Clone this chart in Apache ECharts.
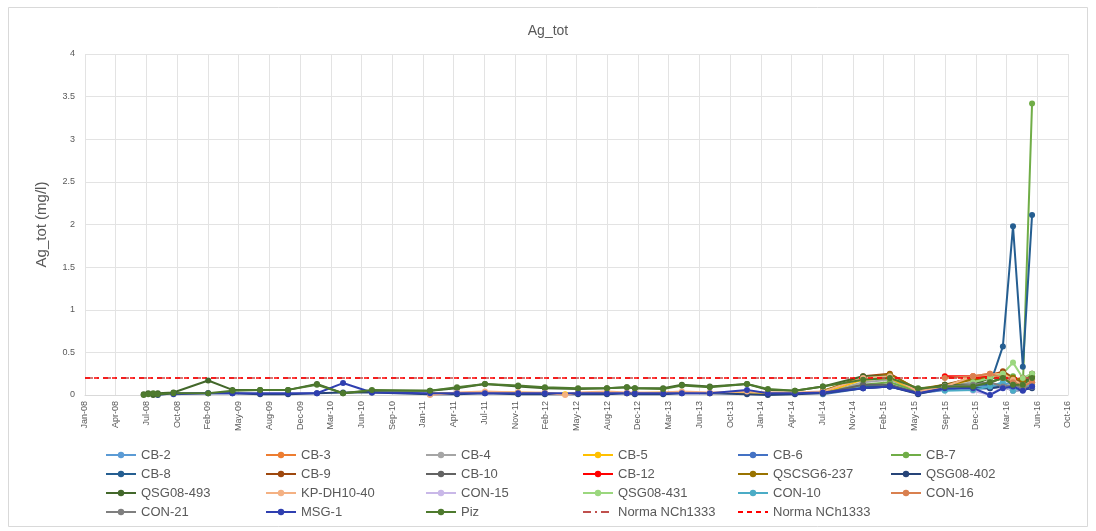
<!DOCTYPE html>
<html>
<head>
<meta charset="utf-8">
<script src="https://cdn.jsdelivr.net/npm/echarts@6/dist/echarts.min.js"></script>
<style>
html,body{margin:0;padding:0;background:#fff;}
#chart{width:1096px;height:531px;}
</style>
</head>
<body>
<div id="chart"></div>
<script>
// ---- DATA ----
const chartTitle = 'Ag_tot';
const yAxisTitle = 'Ag_tot (mg/l)';
const axisStart = '2008-01-01';
const xMaxDays = 3200;
const xStepDays = 100;
const yTicks = [0, 0.5, 1, 1.5, 2, 2.5, 3, 3.5, 4];

const sampleDates = [
  '2008-07-10','2008-07-25','2008-08-10','2008-08-25','2008-10-15','2009-02-05','2009-04-25','2009-07-24',
  '2009-10-23','2010-01-25','2010-04-20','2010-07-23','2011-01-28','2011-04-26','2011-07-26','2011-11-11',
  '2012-02-06','2012-04-12','2012-05-24','2012-08-26','2012-10-30','2012-11-25','2013-02-25','2013-04-27',
  '2013-07-27','2013-11-25','2014-02-01','2014-04-30','2014-07-30','2014-12-08','2015-03-05','2015-06-05',
  '2015-08-31','2015-12-01','2016-01-25','2016-03-07','2016-04-09','2016-05-11','2016-06-10'
];
const N = null;
// indices 0..27 (2008-2014 early) then 28..38 (late)
const cb2  = [N,N,N,N,N,N,N,N,N,N,N,N,N,N,N,N,N,N,N,N,N,N,N,N,N,N,N,N, 0.02,0.10,0.12,0.02,0.08,0.10,0.10,0.12,0.15,0.10,0.12];
const cb3  = [N,N,N,N,N,N,N,N,N,N,N,N,N,N,N,N,N,N,N,N,N,N,N,N,N,N,N,N, 0.03,0.20,0.22,0.05,0.10,0.22,0.25,0.26,0.20,0.15,0.18];
const cb4  = [N,N,N,N,N,N,N,N,N,N,N,N,N,N,N,N,N,N,N,N,N,N,N,N,N,N,N,N, 0.02,0.15,0.18,0.04,0.10,0.15,0.20,0.20,0.15,0.10,0.15];
const cb5  = [N,N,N,N,N,N,N,N,N,N,N,N,0.02,0.02,0.03,0.03,0.02,0.01,0.02,0.03,0.02,0.02,0.03,0.03,0.02,0.03,0.02,0.02, 0.03,0.18,0.20,0.03,0.08,0.20,0.22,0.25,0.18,0.12,0.20];
const cb6  = [N,N,N,N,N,N,N,N,N,N,N,N,N,N,N,N,N,N,N,N,N,N,N,N,N,N,N,N, 0.01,0.08,0.10,0.02,0.06,0.08,0.08,0.10,0.10,0.20,0.15];
const cb7  = [N,N,N,N,N,N,N,N,N,N,N,N,N,N,N,N,N,N,N,N,N,N,N,N,N,N,N,N, 0.02,0.12,0.15,0.04,0.10,0.12,0.15,0.20,0.22,0.10,3.42];
const cb8  = [N,N,N,N,N,N,N,N,N,N,N,N,N,N,N,N,N,N,N,N,N,N,N,N,N,N,N,N, N,0.10,0.10,0.03,0.10,0.12,0.12,0.57,1.98,0.33,2.11];
const cb9  = [N,N,N,N,N,N,N,N,N,N,N,N,N,N,N,N,N,N,N,N,N,N,N,N,N,N,N,N, 0.04,0.22,0.25,0.06,0.12,0.20,0.22,0.28,0.20,0.15,0.25];
const cb10 = [N,N,N,N,N,N,N,N,N,N,N,N,N,N,N,N,N,N,N,N,N,N,N,N,N,N,N,N, 0.02,0.12,0.12,0.02,0.10,0.12,0.15,0.20,0.12,0.10,0.20];
const cb12 = [N,N,N,N,N,N,N,N,N,N,N,N,N,N,N,N,N,N,N,N,N,N,N,N,N,N,N,N, N,N,N,N,0.22,0.22,0.22,0.22,0.18,0.20,0.15];
const qscsg6_237 = [N,N,N,N,N,N,N,N,N,N,N,N,N,N,N,N,N,N,N,N,N,N,N,N,N,N,N,N, 0.05,0.20,0.24,0.07,0.12,0.18,0.20,0.25,0.20,0.18,0.22];
const qsg08_402 = [N,N,0.01,0.00,0.02,0.02,0.02,0.01,0.01,0.02,0.03,0.03,0.01,0.01,0.02,0.01,0.01,N,0.01,0.01,0.02,0.01,0.01,0.02,0.02,0.01,0.00,0.01, 0.02,0.08,0.10,0.01,0.08,0.08,0.08,0.10,0.05,0.06,0.08];
const qsg08_493 = [0.01,0.02,0.00,0.02,0.03,0.17,0.06,0.06,0.06,0.13,0.02,0.05,0.05,0.08,0.13,0.10,0.08,N,0.07,0.08,0.09,0.08,0.08,0.12,0.10,0.13,0.06,0.05, 0.10,0.22,0.22,0.05,0.12,0.12,0.20,0.22,0.18,0.12,0.25];
const kpdh10_40 = [N,N,N,N,N,N,N,N,N,N,N,N,0.00,0.03,0.04,0.03,0.03,0.00,0.03,0.04,0.03,0.03,0.03,0.04,0.03,0.04,0.03,0.03, 0.04,0.20,0.22,0.04,0.10,0.22,0.24,0.25,0.18,0.12,0.18];
const con15 = [N,N,N,N,N,N,N,N,N,N,N,N,N,N,N,N,N,N,N,N,N,N,N,N,N,N,N,N, N,N,N,N,0.10,0.05,0.00,0.10,0.05,0.08,0.10];
const qsg08_431 = [N,N,N,N,N,N,N,N,N,N,N,N,N,N,N,N,N,N,N,N,N,N,N,N,N,N,N,N, N,N,N,N,N,0.15,0.20,0.25,0.38,0.20,0.25];
const con10 = [N,N,N,N,N,N,N,N,N,N,N,N,N,N,N,N,N,N,N,N,N,N,N,N,N,N,N,N, N,N,N,N,0.05,0.06,0.10,0.15,0.05,0.10,0.12];
const con16 = [N,N,N,N,N,N,N,N,N,N,N,N,N,N,N,N,N,N,N,N,N,N,N,N,N,N,N,N, N,N,N,N,0.20,0.22,0.25,0.20,0.15,0.10,0.15];
const con21 = [N,N,N,N,N,N,N,N,N,N,N,N,N,N,N,N,N,N,N,N,N,N,N,N,N,N,N,N, N,N,N,N,0.10,0.12,0.15,0.10,0.12,0.08,0.10];
const msg1 = [N,N,N,N,0.01,0.02,0.02,0.02,0.02,0.02,0.14,0.03,0.02,0.02,0.02,0.02,0.02,N,0.02,0.02,0.02,0.02,0.02,0.02,0.02,0.06,0.02,0.02, 0.03,0.08,0.10,0.02,0.08,0.08,0.00,0.08,0.10,0.05,0.10];
const piz = [0.00,0.01,0.02,0.01,0.02,0.02,0.05,0.06,0.06,0.12,0.02,0.06,0.05,0.09,0.13,0.11,0.09,N,0.08,0.08,0.09,0.08,0.07,0.11,0.09,0.13,0.07,0.05, 0.10,0.18,0.20,0.08,0.10,0.10,0.15,0.20,0.12,0.12,0.20];
const normaDates = ['2008-01-01','2016-06-10'];
const normaVals = [0.2, 0.2];

const seriesNames = ['CB-2','CB-3','CB-4','CB-5','CB-6','CB-7','CB-8','CB-9','CB-10','CB-12','QSCSG6-237','QSG08-402',
  'QSG08-493','KP-DH10-40','CON-15','QSG08-431','CON-10','CON-16','CON-21','MSG-1','Piz'];
const seriesValues = [cb2,cb3,cb4,cb5,cb6,cb7,cb8,cb9,cb10,cb12,qscsg6_237,qsg08_402,qsg08_493,kpdh10_40,con15,qsg08_431,con10,con16,con21,msg1,piz];

// ---- STYLE ----
const seriesColors = ['#5B9BD5','#ED7D31','#A5A5A5','#FFC000','#4472C4','#70AD47','#255E91','#9E480E','#636363','#FF0000','#997300','#264478',
  '#43682B','#F4B183','#C9B8E8','#9BD77E','#4BACC6','#D9804F','#7F7F7F','#2F3FB0','#4E7A2E'];

const base = Date.UTC(2008,0,1);
function toDay(s){ const p=s.split('-').map(Number); return Math.round((Date.UTC(p[0],p[1]-1,p[2])-base)/86400000); }
const MON=['Jan','Feb','Mar','Apr','May','Jun','Jul','Aug','Sep','Oct','Nov','Dec'];
function dayLabel(d){ const dt=new Date(base+d*86400000); return MON[dt.getUTCMonth()]+'-'+String(dt.getUTCFullYear()).slice(2); }

const xs = sampleDates.map(toDay);
const series = seriesNames.map((name,i)=>({
  name, type:'line', connectNulls:true, symbol:'circle', symbolSize:6,
  data: xs.map((x,j)=>[x, seriesValues[i][j]]).filter(p=>p[1]!==null),
  lineStyle:{width:2, color:seriesColors[i]},
  itemStyle:{color:seriesColors[i]},
  emphasis:{disabled:true}, animation:false
}));
series.push({name:'Norma NCh1333', type:'line', symbol:'none', data: normaDates.map((d,j)=>[toDay(d), normaVals[j]]),
  lineStyle:{width:1.5, color:'#C0504D', type:[8,4,2,4]}, itemStyle:{color:'#C0504D'}, animation:false, z:3});
series.push({name:'Norma NCh1333 ', type:'line', symbol:'none', data: normaDates.map((d,j)=>[toDay(d), normaVals[j]]),
  lineStyle:{width:1.5, color:'#FF0000', type:[5,4]}, itemStyle:{color:'#FF0000'}, animation:false, z:3});

const legendNames = seriesNames.concat(['Norma NCh1333','Norma NCh1333 ']);
const colLeft = [105,265,425,582,737,890];
const legends = colLeft.map((left,c)=>({
  orient:'vertical', left, top:448.5, height:82, padding:0, itemWidth:30, itemHeight:8, itemGap:6,
  data: legendNames.filter((n,k)=>k%6===c).map(n=>n.startsWith('Norma') ? {name:n, itemStyle:{opacity:0}} : n),
  formatter: n=>n.trim(),
  textStyle:{color:'#595959', fontSize:13, fontFamily:'Liberation Sans'},
  selectedMode:false
}));

const chart = echarts.init(document.getElementById('chart'), null, {renderer:'canvas'});
chart.setOption({
  animation:false,
  backgroundColor:'#fff',
  title:{text:chartTitle, left:'center', top:19, textStyle:{fontSize:14, fontWeight:'normal', color:'#595959', fontFamily:'Liberation Sans'}},
  graphic:[{type:'rect', shape:{x:8.5,y:7.5,width:1079,height:519}, style:{fill:'none', stroke:'#D9D9D9', lineWidth:1}, silent:true}],
  grid:{left:85, right:28, top:54, bottom:136},
  legend: legends,
  xAxis:{type:'value', min:0, max:xMaxDays, interval:xStepDays,
    axisLine:{show:true, onZero:false, lineStyle:{color:'#D9D9D9'}},
    axisTick:{show:false},
    axisLabel:{rotate:90, formatter:v=>dayLabel(v), color:'#595959', fontSize:9, fontFamily:'Liberation Sans', margin:6},
    splitLine:{show:true, lineStyle:{color:'#E3E3E3'}}},
  yAxis:{type:'value', min:yTicks[0], max:yTicks[yTicks.length-1], interval:yTicks[1]-yTicks[0],
    name:yAxisTitle, nameLocation:'middle', nameRotate:90, nameGap:36,
    nameTextStyle:{fontSize:15, color:'#595959', fontFamily:'Liberation Sans'},
    axisLine:{show:false}, axisTick:{show:false},
    axisLabel:{color:'#595959', fontSize:9, fontFamily:'Liberation Sans', margin:10},
    splitLine:{show:true, lineStyle:{color:'#E3E3E3'}}},
  series
});
</script>
</body>
</html>
